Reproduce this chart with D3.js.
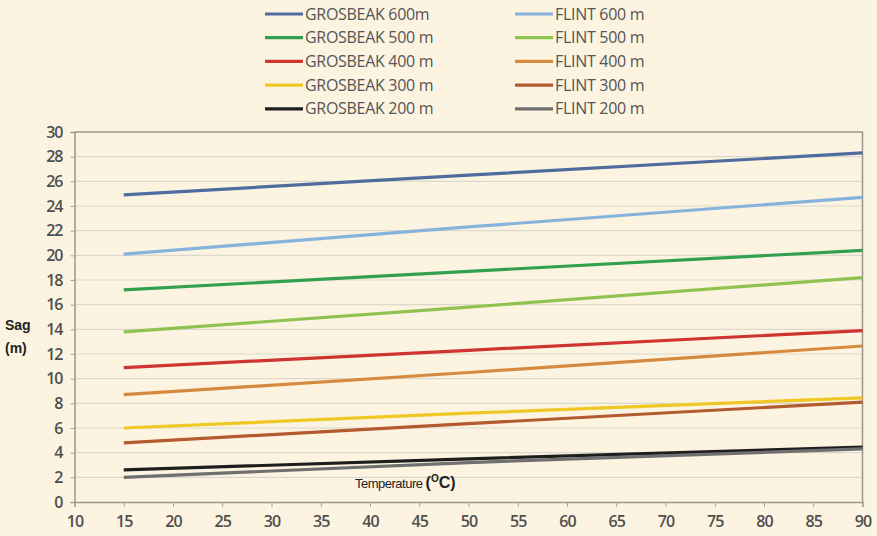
<!DOCTYPE html>
<html><head><meta charset="utf-8">
<script src="https://cdn.jsdelivr.net/npm/d3@7"></script>
<style>
html,body{margin:0;padding:0;background:#fcf4e1;}
svg{display:block;}
</style></head>
<body>
<script>
const temps = [15, 50, 90];
const seriesNames = ["GROSBEAK 600m","FLINT 600 m","GROSBEAK 500 m","FLINT 500 m","GROSBEAK 400 m","FLINT 400 m","GROSBEAK 300 m","FLINT 300 m","GROSBEAK 200 m","FLINT 200 m"];
const grosbeak600 = [24.9, 26.5, 28.3];
const flint600    = [20.1, 22.3, 24.7];
const grosbeak500 = [17.2, 18.7, 20.4];
const flint500    = [13.8, 15.8, 18.2];
const grosbeak400 = [10.9, 12.3, 13.9];
const flint400    = [8.7, 10.5, 12.65];
const grosbeak300 = [6.0, 7.2, 8.45];
const flint300    = [4.8, 6.35, 8.1];
const grosbeak200 = [2.6, 3.5, 4.45];
const flint200    = [2.0, 3.2, 4.3];
const seriesValues = [grosbeak600, flint600, grosbeak500, flint500, grosbeak400, flint400, grosbeak300, flint300, grosbeak200, flint200];
const colors = ["#4f6c9e","#86b3dc","#33a04f","#8fc351","#d03430","#d68a40","#f0c824","#b35a30","#1e1e1e","#707070"];
const xTicks = d3.range(10, 95, 5);
const yTicks = d3.range(0, 32, 2);

const W = 877, H = 536;
const svg = d3.select("body").append("svg").attr("width", W).attr("height", H);
svg.append("rect").attr("width", W).attr("height", H).attr("fill", "#fcf4e1");

const x = d3.scaleLinear().domain([10, 90]).range([74.5, 862.5]);
const y = d3.scaleLinear().domain([0, 30]).range([502, 132]);

// gridlines
svg.append("g").selectAll("line").data(yTicks.filter(d => d > 0 && d < 30)).join("line")
  .attr("x1", x(10)).attr("x2", x(90)).attr("y1", d => y(d)).attr("y2", d => y(d))
  .attr("stroke", "#dcd8ce").attr("stroke-width", 1.2);

// frame top and right
svg.append("path").attr("d", `M${x(10)},${y(30)}H${x(90)}V${y(0)}`)
  .attr("fill", "none").attr("stroke", "#9a968e").attr("stroke-width", 1.5);

// axes
const axisFont = "'Open Sans', sans-serif";
const yAxis = svg.append("g").attr("transform", `translate(${x(10)},0)`)
  .call(d3.axisLeft(y).tickValues(yTicks).tickSize(4).tickPadding(8));
const xAxis = svg.append("g").attr("transform", `translate(0,${y(0)})`)
  .call(d3.axisBottom(x).tickValues(xTicks).tickSize(5).tickPadding(9));
[yAxis, xAxis].forEach(g => {
  g.select(".domain").attr("stroke", "#9a968e").attr("stroke-width", 1.5);
  g.selectAll(".tick line").attr("stroke", "#a8a49c");
  g.selectAll("text").attr("fill", "#4f4f4f").attr("font-size", 16).attr("font-weight", 600)
    .attr("font-family", axisFont).attr("letter-spacing", -1);
});

// lines
const line = d3.line().x((d, i) => x(temps[i])).y(d => y(d));
svg.append("g").selectAll("path").data(seriesValues).join("path")
  .attr("d", d => line(d)).attr("fill", "none")
  .attr("stroke", (d, i) => colors[i]).attr("stroke-width", 3.2);

// legend
const legFont = "'Open Sans', sans-serif";
const leg = svg.append("g");
seriesNames.forEach((n, i) => {
  const col = i % 2, row = Math.floor(i / 2);
  const lx = col === 0 ? 265 : 515;
  const ly = 14 + row * 23.7;
  leg.append("line").attr("x1", lx).attr("x2", lx + 38).attr("y1", ly).attr("y2", ly)
    .attr("stroke", colors[i]).attr("stroke-width", 3.2);
  leg.append("text").attr("x", lx + 40).attr("y", ly + 5.5).text(n)
    .attr("font-family", legFont).attr("font-size", 16).attr("fill", "#555")
    .attr("letter-spacing", -0.3);
});

// y label
const yl = svg.append("text").attr("font-family", "'Liberation Sans', Arial, sans-serif")
  .attr("font-weight", 700).attr("font-size", 14).attr("fill", "#222");
yl.append("tspan").attr("x", 5).attr("y", 330).text("Sag");
yl.append("tspan").attr("x", 5).attr("y", 353).text("(m)");

// x label
const xl = svg.append("text").attr("x", 355).attr("y", 488)
  .attr("font-family", "'Liberation Sans', Arial, sans-serif").attr("fill", "#222");
xl.append("tspan").attr("font-size", 13).attr("letter-spacing", -0.5).text("Temperature ");
xl.append("tspan").attr("font-size", 16).attr("font-weight", 700).text("(");
xl.append("tspan").attr("font-size", 10).attr("font-weight", 700).attr("dy", -6).text("O");
xl.append("tspan").attr("font-size", 16).attr("font-weight", 700).attr("dy", 6).text("C)");
</script>
</body></html>
